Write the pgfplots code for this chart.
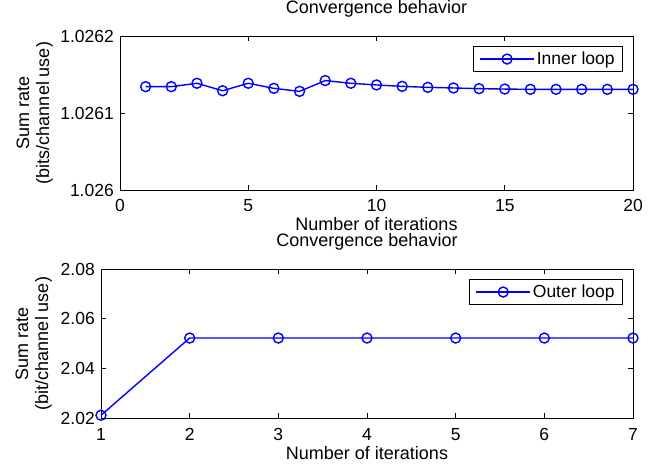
\documentclass[border=0pt]{standalone}
\usepackage{pgfplots}
\pgfplotsset{compat=1.18}
\usepackage{fontspec}
\setmainfont{Liberation Sans}
\definecolor{mblue}{RGB}{0,0,255}
\pgfplotsset{
  mstyle/.style={
    scale only axis,
    axis line style={line width=0.8bp},
    every tick/.style={line width=0.8bp, black},
    tick align=inside,
    major tick length=5bp,
    /pgf/number format/assume math mode=true,
    xticklabel style={anchor=base, yshift=-22bp, inner sep=0pt},
    yticklabel style={anchor=east, xshift=-6bp, inner sep=0pt},
    xlabel style={at={(axis description cs:0.5,0)}, anchor=base, yshift=-41bp, inner sep=0pt, font=\fontsize{18bp}{21bp}\selectfont},
    title style={at={(axis description cs:0.5,1)}, anchor=base, yshift=17bp, inner sep=0pt, font=\fontsize{18bp}{21bp}\selectfont},
    legend style={at={(1,1)}, anchor=north east, xshift=-10bp, yshift=-10bp,
      draw=black, line width=0.8bp, inner xsep=6bp, inner ysep=3bp, fill=white},
    legend cell align=left,
    legend image code/.code={
      \draw[#1,mark=none] (0bp,0bp) -- (54bp,0bp);
      \draw[#1,only marks] plot coordinates {(27bp,0bp)};
    },
    clip=false,
  },
  lstyle/.style={color=mblue, line width=1.4bp, mark=o, mark size=5bp,
    mark options={line width=1.4bp, solid}},
}
\begin{document}
\fontsize{17.5bp}{21bp}\selectfont
\begin{tikzpicture}
\useasboundingbox (0,0) rectangle (656bp,466bp);
\begin{axis}[mstyle,
  at={(120bp,276bp)}, anchor=south west,
  width=513bp, height=154bp,
  xmin=0, xmax=20, xtick={0,5,10,15,20},
  y coord trafo/.code={\edef\pgfmathresult{\fpeval{(#1-1.026)*10000000}}},
  ymin=1.026, ymax=1.0262,
  ytick={1.026,1.0261,1.0262},
  yticklabels={1.026,1.0261,1.0262},
  title={Convergence behavior},
  xlabel={Number of iterations},
  ylabel={Sum rate\\(bits/channel use)},
  ylabel style={at={(axis description cs:-0.1306,0.5)}, anchor=south, align=center, inner sep=0pt, font=\fontsize{18bp}{20bp}\selectfont},
]
\addplot[lstyle] table {
x y
1 1.0261342
2 1.0261342
3 1.0261386
4 1.0261289
5 1.0261386
6 1.0261320
7 1.0261281
8 1.0261421
9 1.0261386
10 1.0261364
11 1.0261346
12 1.0261333
13 1.0261325
14 1.0261316
15 1.0261311
16 1.0261307
17 1.0261307
18 1.0261307
19 1.0261307
20 1.0261307
};
\addlegendentry{Inner loop}
\end{axis}
\begin{axis}[mstyle,
  at={(101bp,48bp)}, anchor=south west,
  width=532bp, height=149bp,
  xmin=1, xmax=7, xtick={1,2,3,4,5,6,7},
  ymin=2.02, ymax=2.08,
  ytick={2.02,2.04,2.06,2.08},
  yticklabels={2.02,2.04,2.06,2.08},
  title={Convergence behavior},
  xlabel={Number of iterations},
  ylabel={Sum rate\\(bit/channel use)},
  ylabel style={at={(axis description cs:-0.0921,0.5)}, anchor=south, align=center, inner sep=0pt, font=\fontsize{18bp}{20bp}\selectfont},
]
\addplot[lstyle] table {
x y
1 2.0211
2 2.0522
3 2.0522
4 2.0522
5 2.0522
6 2.0522
7 2.0522
};
\addlegendentry{Outer loop}
\end{axis}
\end{tikzpicture}
\end{document}
